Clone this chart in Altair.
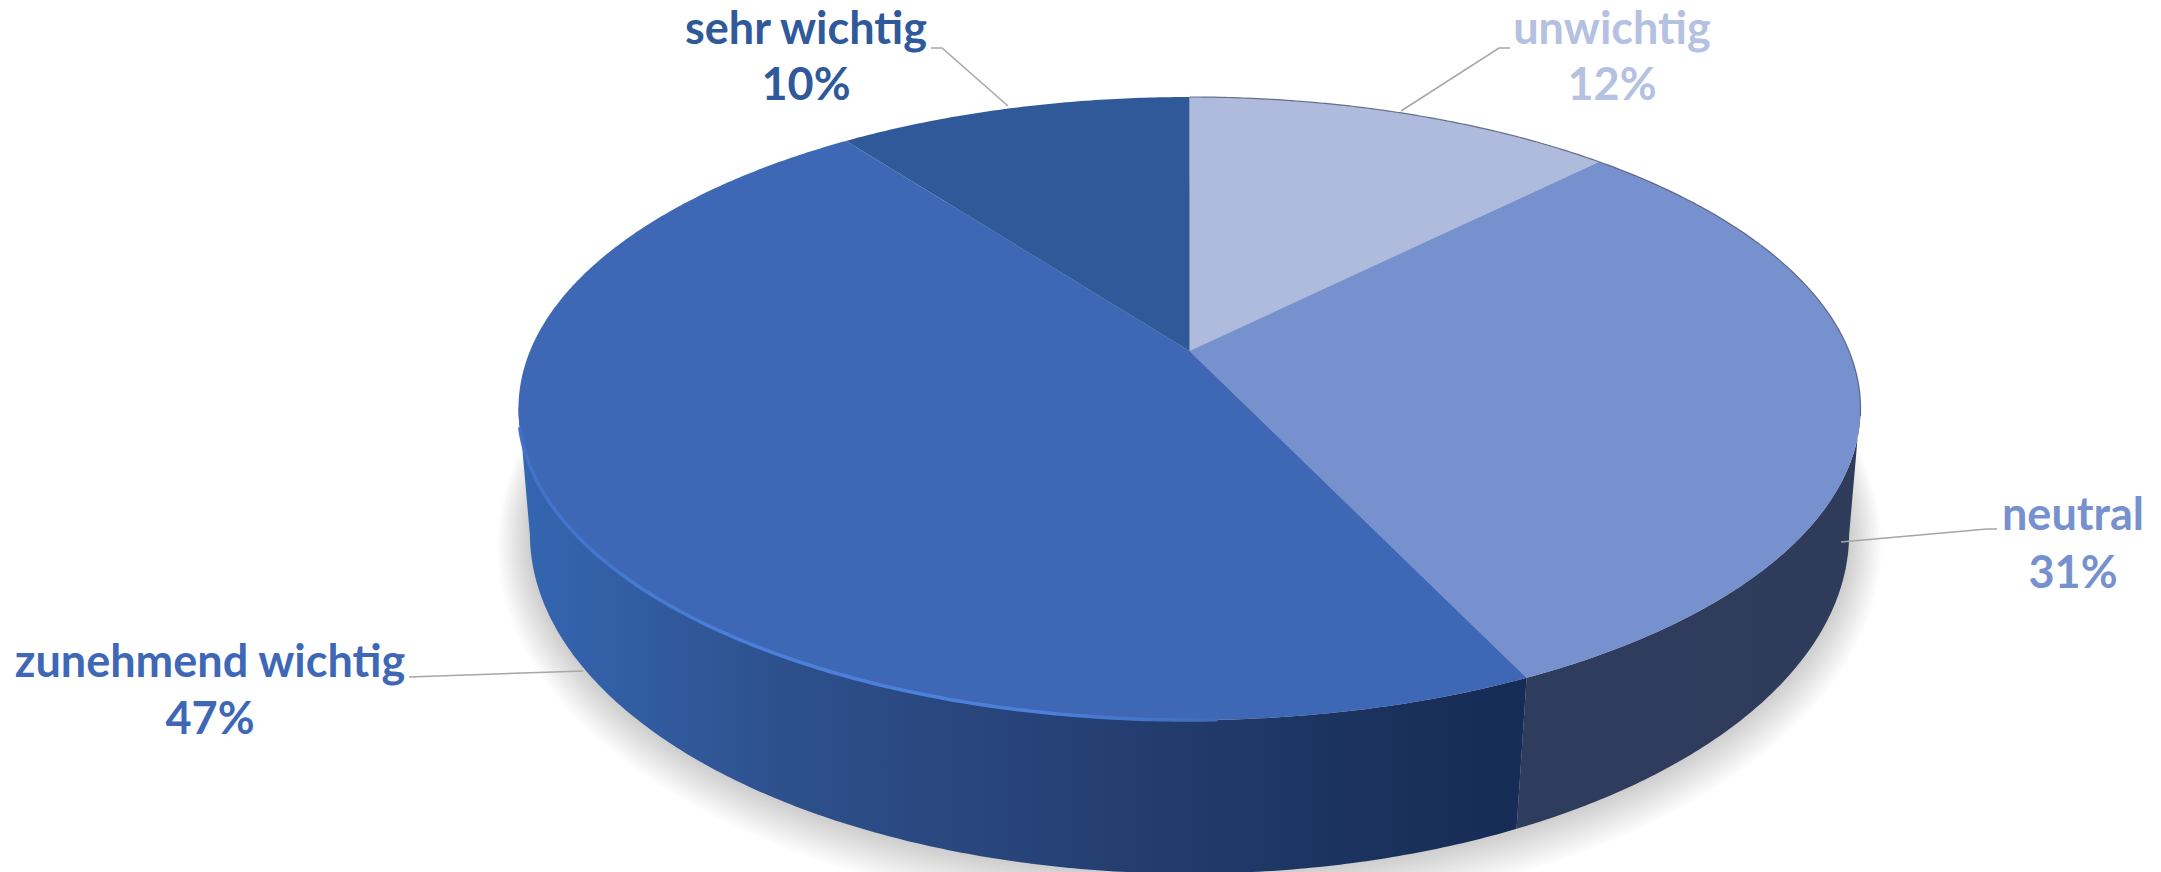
import numpy as np
import pandas as pd
import altair as alt

categories = ["unwichtig", "neutral", "zunehmend wichtig", "sehr wichtig"]
shares = [12.4, 30.6, 46.8, 10.2]
percent_labels = ["12%", "31%", "47%", "10%"]
face_colors = ["#AFBBDC", "#7790CE", "#3E68B6", "#30599A"]
label_colors = ["#B4C1E1", "#7790CE", "#3E68B6", "#30599A"]

# Perspective model of the disc: (apex y, vertical reach, perspective, half width)
CX = 1189.5
TOP = dict(y0=350.0, b=300.9, c=0.1846, a=659.5)
BOT = dict(y0=475.0, b=330.0, c=0.17, a=650.0)


def rim(deg, p=TOP, grow=0.0, dy=0.0):
    t = np.radians(np.asarray(deg, dtype=float))
    d = 1 + p["c"] * np.cos(t)
    x = CX + (p["a"] + grow) * np.sin(t) / d
    y = p["y0"] + dy - (p["b"] + grow) * np.cos(t) / d
    return x, y


def arc(a, b, p=TOP, grow=0.0, dy=0.0):
    n = max(int(abs(b - a) * 2), 4)
    return rim(np.linspace(a, b, n), p, grow, dy)


def frame(xs, ys):
    return pd.DataFrame({"x": xs, "y": ys, "i": np.arange(len(xs))})


X = alt.X("x:Q", scale=alt.Scale(domain=[8, 2153]), axis=None)
Y = alt.Y("y:Q", scale=alt.Scale(domain=[873, 9]), axis=None)
ORDER = alt.Order("i:Q")


def poly(xs, ys, fill, **kw):
    return alt.Chart(frame(xs, ys)).mark_line(fill=fill, strokeWidth=0, clip=False, **kw).encode(x=X, y=Y, order=ORDER)


def stroke_line(xs, ys, stroke, width, **kw):
    return alt.Chart(frame(xs, ys)).mark_line(stroke=stroke, strokeWidth=width, **kw).encode(x=X, y=Y, order=ORDER)


def grad(stops):
    return alt.Gradient(
        gradient="linear", x1=0, x2=1, y1=0, y2=0,
        stops=[alt.GradientStop(offset=o, color=c) for o, c in stops],
    )


layers = []

# soft shadow
for k in range(16, 0, -1):
    xs, ys = arc(0, 360, BOT, grow=k * 2.0, dy=k * 0.4)
    layers.append(poly(xs, ys, "#000000", fillOpacity=0.012))

edges = np.cumsum([0] + shares) * 3.6

# side walls (neutral and zunehmend wichtig)
side_fill = {
    1: grad([(0, "#2E3C5E"), (1, "#2F3B5A")]),
    2: grad([(0, "#3566B2"), (0.28, "#2D4F8A"), (0.58, "#253F73"), (0.8, "#1C3460"), (1, "#162B55")]),
}
side_span = {1: (100.0, edges[2]), 2: (edges[2], 260.0)}
for idx in (1, 2):
    a, b = side_span[idx]
    tx, ty = arc(a, b, TOP)
    bx, by = arc(b, a, BOT)
    layers.append(poly(np.r_[tx, bx], np.r_[ty, by], side_fill[idx]))

# top faces
apex_y = TOP["y0"]
for i, colour in enumerate(face_colors):
    ax, ay = arc(edges[i], edges[i + 1], TOP)
    layers.append(poly(np.r_[CX, ax, CX], np.r_[apex_y, ay, apex_y], colour))

# rim highlight and thin outline
hx, hy = arc(178, 256, TOP)
layers.append(stroke_line(hx, hy, grad([(0, "#4272C8"), (0.35, "#4C80DC"), (0.75, "#4C80DC"), (1, "#3F6CBC")]), 3.5))
ox, oy = arc(0, 102, TOP)
layers.append(stroke_line(ox, oy, "#4A5470", 1.2, opacity=0.8))

# leader lines
leaders = {
    "unwichtig": ([1510, 1499, 1401], [47, 47, 110]),
    "neutral": ([1997, 1987, 1841], [528, 528, 541]),
    "zunehmend wichtig": ([409, 583], [676, 670]),
    "sehr wichtig": ([931, 942, 1008], [47, 47, 105]),
}
for name in categories:
    lx, ly = leaders[name]
    layers.append(stroke_line(lx, ly, "#A6A6A6", 1.5))

# labels
label_pos = {
    "unwichtig": (1612, 43, 99),
    "neutral": (2073, 529, 587),
    "zunehmend wichtig": (210, 676, 733),
    "sehr wichtig": (806, 43, 99),
}
for name, pct, colour in zip(categories, percent_labels, label_colors):
    px, y1, y2 = label_pos[name]
    for text, yy in ((name, y1), (pct, y2)):
        layers.append(
            alt.Chart(pd.DataFrame({"x": [px], "y": [yy], "t": [text]}))
            .mark_text(font="Lato", fontWeight="bold", fontSize=45, baseline="alphabetic", align="center", color=colour)
            .encode(x=X, y=Y, text="t:N")
        )

chart = (
    alt.layer(*layers)
    .properties(width=2145, height=864, padding=0, background="white")
    .configure_view(stroke=None)
)
chart.save("out.html", embed_options={"renderer": "svg", "actions": False})
